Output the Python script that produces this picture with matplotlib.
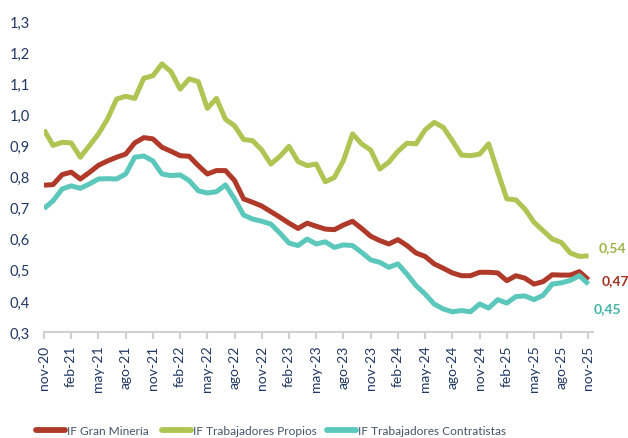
import matplotlib
matplotlib.use("Agg")
import matplotlib.pyplot as plt
from matplotlib.lines import Line2D

# monthly values, nov-20 .. nov-25
gran_mineria = [
    0.772, 0.774, 0.806, 0.814, 0.792, 0.813, 0.836, 0.850, 0.862, 0.872,
    0.908, 0.925, 0.921, 0.894, 0.881, 0.867, 0.865, 0.835, 0.808, 0.819,
    0.819, 0.787, 0.728, 0.717, 0.705, 0.687, 0.669, 0.650, 0.633, 0.650,
    0.640, 0.631, 0.629, 0.644, 0.656, 0.633, 0.608, 0.594, 0.583, 0.597,
    0.578, 0.554, 0.543, 0.519, 0.505, 0.490, 0.481, 0.481, 0.492, 0.492,
    0.490, 0.465, 0.481, 0.473, 0.454, 0.462, 0.484, 0.483, 0.483, 0.494,
    0.468,
]
propios = [
    0.950, 0.900, 0.910, 0.908, 0.862, 0.899, 0.937, 0.985, 1.049, 1.058,
    1.051, 1.116, 1.124, 1.162, 1.137, 1.081, 1.114, 1.105, 1.019, 1.051,
    0.984, 0.963, 0.919, 0.915, 0.885, 0.840, 0.865, 0.897, 0.848, 0.835,
    0.840, 0.783, 0.797, 0.851, 0.937, 0.905, 0.885, 0.824, 0.846, 0.881,
    0.907, 0.905, 0.950, 0.974, 0.958, 0.915, 0.869, 0.867, 0.872, 0.905,
    0.815, 0.728, 0.725, 0.695, 0.653, 0.626, 0.599, 0.588, 0.554, 0.543,
    0.545,
]
contratistas = [
    0.697, 0.722, 0.760, 0.770, 0.762, 0.776, 0.792, 0.793, 0.792, 0.808,
    0.862, 0.866, 0.850, 0.808, 0.803, 0.805, 0.787, 0.754, 0.747, 0.751,
    0.773, 0.728, 0.676, 0.663, 0.656, 0.647, 0.618, 0.586, 0.578, 0.599,
    0.583, 0.590, 0.572, 0.580, 0.578, 0.556, 0.532, 0.524, 0.508, 0.519,
    0.486, 0.449, 0.422, 0.390, 0.374, 0.365, 0.369, 0.365, 0.390, 0.377,
    0.404, 0.393, 0.414, 0.416, 0.404, 0.418, 0.454, 0.458, 0.466, 0.481,
    0.454,
]
tick_labels = [
    "nov-20", "feb-21", "may-21", "ago-21", "nov-21", "feb-22", "may-22",
    "ago-22", "nov-22", "feb-23", "may-23", "ago-23", "nov-23", "feb-24",
    "may-24", "ago-24", "nov-24", "feb-25", "may-25", "ago-25", "nov-25",
]
series_names = ["IF Gran Minería", "IF Trabajadores Propios", "IF Trabajadores Contratistas"]
end_labels = ["0,47", "0,54", "0,45"]

plt.rcParams["font.family"] = ["Lato", "DejaVu Sans"]

navy = "#203864"
c_red = "#B03A2A"
c_green = "#AFC553"
c_teal = "#5CC8BC"

fig = plt.figure(figsize=(6.28, 4.39), dpi=100)
ax = fig.add_axes([44 / 628, 1 - 333 / 439, (593 - 44) / 628, (333 - 22) / 439])

x = list(range(len(gran_mineria)))
lw = 3.6
for vals, col in [(gran_mineria, c_red), (propios, c_green), (contratistas, c_teal)]:
    ax.plot(x, vals, color=col, lw=lw, solid_joinstyle="round", solid_capstyle="butt")

ax.set_xlim(0, 60.5)
ax.set_ylim(0.3, 1.3)
ax.set_yticks([0.3 + 0.1 * k for k in range(11)])
ax.set_yticklabels([f"{0.3 + 0.1 * k:.1f}".replace(".", ",") for k in range(11)],
                   color=navy, fontsize=10.5)
ax.set_xticks(range(0, 61, 3))
ax.set_xticklabels(tick_labels, rotation=90, color=navy, fontsize=10)

for s in ["top", "right", "left"]:
    ax.spines[s].set_visible(False)
ax.spines["bottom"].set_color("#D0D0D0")
ax.spines["bottom"].set_linewidth(1.5)
ax.tick_params(axis="y", length=0, pad=10)
ax.tick_params(axis="x", length=5, width=1.5, color="#D0D0D0", pad=4)

# end-value labels
ax.annotate(end_labels[1], (60, propios[-1]), xytext=(7, 6), textcoords="offset points",
            color="#9DB54A", fontsize=10, fontweight="bold", va="center")
ax.annotate(end_labels[0], (60, gran_mineria[-1]), xytext=(9.5, 0), textcoords="offset points",
            color="#A0301F", fontsize=10, fontweight="bold", va="center")
ax.annotate(end_labels[2], (60, contratistas[-1]), xytext=(3.5, -17), textcoords="offset points",
            color="#40B3A5", fontsize=10, fontweight="bold", va="center")

# legend, one entry per block to match spacing
leg_x = [36, 162, 327]
for name, col, lx in zip(series_names, [c_red, c_green, c_teal], leg_x):
    h = Line2D([], [], color=col, lw=4.2, solid_capstyle="round")
    leg = fig.legend([h], [name], loc="center left", bbox_to_anchor=(lx / 628, 7 / 439),
                     frameon=False, fontsize=8.6, handlelength=2.4, handletextpad=0.2,
                     borderpad=0, borderaxespad=0)
    for t in leg.get_texts():
        t.set_color("#44546A")

fig.savefig("out.png", dpi=100)
